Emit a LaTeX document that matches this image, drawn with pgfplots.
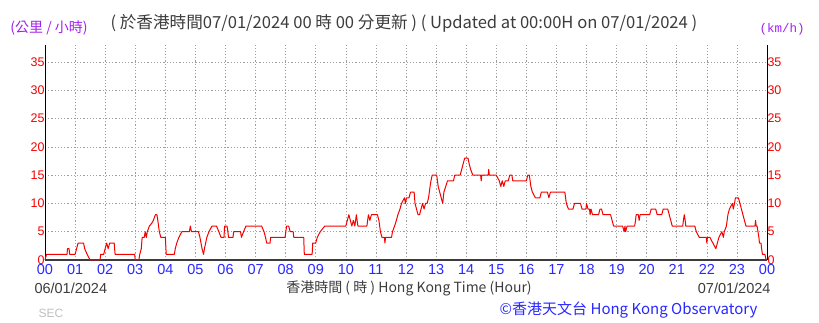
\documentclass[border=0pt]{standalone}
\usepackage{pgfplots}
\pgfplotsset{compat=1.18}
\usepackage{fontspec}
\setmainfont{Liberation Sans}
\newfontfamily\cjk{Noto Sans CJK TC}
\newfontfamily\mono{Liberation Mono}
\definecolor{hkred}{RGB}{245,0,0}
\definecolor{hkblue}{RGB}{40,40,255}
\definecolor{hkpurple}{RGB}{160,32,240}
\definecolor{hkgray}{RGB}{60,60,60}
\begin{document}
\begin{tikzpicture}
\path[use as bounding box] (0,0) rectangle (819pt,323pt);
\begin{axis}[
  at={(45pt,63pt)}, anchor=south west, scale only axis,
  width=722pt, height=215pt,
  xmin=0, xmax=24, ymin=0, ymax=38,
  axis x line*=bottom, axis y line*=left,
  x axis line style={-, line width=1.6pt, color=hkgray},
  y axis line style={-, line width=0.8pt, color=black},
  xtick={0,1,...,24},
  xticklabels={00,01,02,03,04,05,06,07,08,09,10,11,12,13,14,15,16,17,18,19,20,21,22,23,00},
  minor x tick num=1,
  ytick={0,5,...,35},
  grid=major,
  major grid style={gray!75, line width=0.6pt, dash pattern=on 1.2pt off 2pt},
  xtick style={draw=none},
  minor tick length=3pt,
  minor x tick style={color=hkgray, line width=0.8pt},
  ytick style={draw=none},
  xticklabel style={font=\fontsize{14.5}{14.5}\selectfont, text=hkblue, yshift=-1pt},
  yticklabel style={font=\fontsize{12.5}{13}\selectfont, text=hkred, xshift=3pt},
  /pgf/number format/assume math mode=true,
  clip=false,
]
\addplot[hkred, line width=1pt, line join=round] coordinates {
(0,0)(0.05,1)(0.73,1)(0.75,2)(0.8,2)(0.82,1)(1.0,1)(1.05,2)(1.1,3)(1.28,3)(1.32,2)(1.4,1)(1.5,0)(1.83,0)(1.85,1)(1.95,1)(2.0,2)(2.05,3)(2.1,2)(2.15,3)(2.3,3)(2.33,1)(2.98,1)(3.0,0)(3.12,0)(3.15,1)(3.2,2)(3.23,4)(3.3,4)(3.33,5)(3.37,4)(3.4,5)(3.47,6)(3.55,6.5)(3.6,7)(3.67,8)(3.72,8)(3.75,7)(3.8,5)(3.85,4)(4.0,4)(4.03,1)(4.3,1)(4.33,2)(4.38,3)(4.45,4)(4.55,5)(4.8,5)(4.83,6)(4.87,5)(5.1,5)(5.15,4)(5.22,2)(5.27,1)(5.3,2)(5.38,4)(5.45,5)(5.55,6)(5.7,6)(5.78,5)(5.85,4)(5.95,4)(5.97,6)(6.05,6)(6.08,5)(6.1,4)(6.25,4)(6.27,5)(6.5,5)(6.53,4)(6.6,5)(6.68,6)(7.2,6)(7.28,5)(7.33,4)(7.37,3)(7.48,3)(7.5,4)(7.98,4)(8.03,6)(8.1,6)(8.15,5)(8.25,5)(8.27,4)(8.6,4)(8.62,1)(8.88,1)(8.9,3)(9.0,3)(9.05,4)(9.15,5)(9.3,6)(10.0,6)(10.05,7)(10.1,8)(10.15,7)(10.2,6)(10.25,7)(10.3,6)(10.35,8)(10.4,6)(10.7,6)(10.75,8)(10.8,7)(10.85,8)(11.05,8)(11.1,7)(11.15,5)(11.2,4)(11.28,4)(11.3,3)(11.32,4)(11.52,4)(11.55,5)(11.62,6)(11.68,7)(11.73,8)(11.8,9)(11.85,10)(11.95,11)(11.98,10)(12.02,11)(12.1,11)(12.15,12)(12.27,12)(12.3,10)(12.35,9)(12.4,8)(12.45,8)(12.5,9)(12.55,10)(12.6,9)(12.65,10)(12.7,10)(12.75,11)(12.8,13)(12.83,14)(12.87,15)(13.02,15)(13.07,13)(13.12,12)(13.17,11)(13.22,10)(13.26,12)(13.32,13)(13.38,14)(13.58,14)(13.62,15)(13.8,15)(13.85,16)(13.9,17)(13.95,18)(14.06,18)(14.1,17)(14.15,16)(14.22,15)(14.48,15)(14.5,14)(14.52,15)(14.73,15)(14.75,16)(14.77,15)(15.0,15)(15.1,14)(15.15,13)(15.2,14)(15.25,13)(15.3,14)(15.4,14)(15.45,15)(15.52,15)(15.55,14)(16.0,14)(16.05,15)(16.1,15)(16.15,13)(16.2,12)(16.3,11)(16.45,11)(16.5,12)(16.7,12)(16.75,11)(16.8,12)(17.28,12)(17.33,10)(17.4,9)(17.55,9)(17.6,10)(17.8,10)(17.85,9)(17.98,9)(18.0,10)(18.05,9)(18.1,9)(18.12,8)(18.15,9)(18.2,8)(18.4,8)(18.45,9)(18.5,9)(18.55,8)(18.8,8)(18.85,7)(18.9,6)(19.2,6)(19.25,5)(19.28,6)(19.3,5)(19.35,6)(19.6,6)(19.63,7)(19.65,8)(19.72,8)(19.75,7)(19.78,8)(20.1,8)(20.15,9)(20.3,9)(20.35,8)(20.5,8)(20.55,9)(20.7,9)(20.75,8)(20.8,7)(20.85,6)(21.2,6)(21.22,7)(21.25,8)(21.28,7)(21.3,6)(21.6,6)(21.65,5)(21.75,4)(21.98,4)(22.0,3)(22.02,4)(22.1,4)(22.2,3)(22.3,2)(22.35,3)(22.4,4)(22.5,5)(22.55,4)(22.58,5)(22.65,6)(22.7,8)(22.75,9)(22.85,10)(22.88,9)(22.92,10)(22.95,11)(23.05,11)(23.1,10)(23.15,9)(23.2,8)(23.25,7)(23.3,6)(23.6,6)(23.62,7)(23.64,6)(23.67,6)(23.7,5)(23.73,4)(23.75,3)(23.8,3)(23.82,2)(23.85,1)(23.93,1)(23.97,0)(24,0)
};
\end{axis}
\begin{axis}[
  at={(45pt,63pt)}, anchor=south west, scale only axis,
  width=722pt, height=215pt,
  xmin=0, xmax=24, ymin=0, ymax=38,
  axis x line=none, axis y line*=right,
  y axis line style={-, line width=0.8pt, color=black},
  ytick={0,5,...,35},
  ytick style={draw=none},
  yticklabel style={font=\fontsize{12.5}{13}\selectfont, text=hkred, xshift=-3pt},
  /pgf/number format/assume math mode=true,
]
\addplot[draw=none] coordinates {(0,0)(24,0)};
\end{axis}
\node[anchor=center, text=hkpurple, font=\cjk\fontsize{14}{15}\selectfont] at (49pt,295pt) {(公里 / 小時)};
\node[anchor=west, text=hkgray, font=\cjk\fontsize{16.6}{17}\selectfont] at (107pt,300pt) {( 於香港時間07/01/2024 00 時 00 分更新 ) ( Updated at 00:00H on 07/01/2024 )};
\node[anchor=center, text=hkpurple, font=\mono\fontsize{12.5}{13}\selectfont] at (782pt,294pt) {(km/h)};
\node[anchor=west, text=hkgray, font=\fontsize{14.5}{15}\selectfont] at (31pt,35pt) {06/01/2024};
\node[anchor=center, text=hkgray, font=\cjk\fontsize{14}{15}\selectfont] at (409pt,35pt) {香港時間 ( 時 ) Hong Kong Time (Hour)};
\node[anchor=east, text=hkgray, font=\fontsize{14.5}{15}\selectfont] at (774pt,35pt) {07/01/2024};
\node[anchor=west, text=gray!50, font=\fontsize{12}{13}\selectfont] at (35pt,10pt) {SEC};
\node[anchor=east, text=hkblue, font=\cjk\fontsize{15}{16}\selectfont] at (761pt,13pt) {©香港天文台 Hong Kong Observatory};
\end{tikzpicture}
\end{document}
